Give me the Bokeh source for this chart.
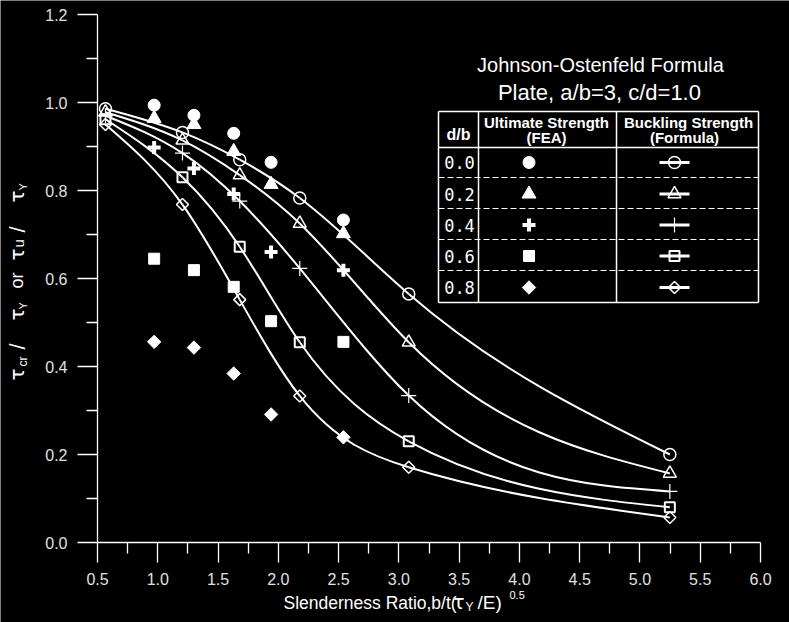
import numpy as np
from bokeh.plotting import figure
from bokeh.models import Label, FixedTicker, PrintfTickFormatter
from bokeh.embed import file_html
from bokeh.resources import INLINE

# ---------------- data ----------------
db_labels = ["0.0", "0.2", "0.4", "0.6", "0.8"]

fea_x = [0.97, 1.30, 1.63, 1.94, 2.54]
fea_00 = [0.994, 0.971, 0.930, 0.864, 0.733]
fea_02 = [0.964, 0.950, 0.889, 0.814, 0.702]
fea_04 = [0.898, 0.850, 0.792, 0.660, 0.619]
fea_06 = [0.645, 0.619, 0.581, 0.503, 0.456]
fea_08 = [0.456, 0.443, 0.384, 0.291, 0.239]

formula_x = [0.566, 1.205, 1.68, 2.178, 3.082, 5.248]
formula_00 = [0.986, 0.932, 0.870, 0.783, 0.565, 0.200]
formula_02 = [0.978, 0.914, 0.835, 0.725, 0.455, 0.157]
formula_04 = [0.970, 0.885, 0.776, 0.623, 0.334, 0.116]
formula_06 = [0.962, 0.830, 0.672, 0.455, 0.230, 0.080]
formula_08 = [0.950, 0.768, 0.552, 0.333, 0.171, 0.057]

x_ticks = [0.5, 1.0, 1.5, 2.0, 2.5, 3.0, 3.5, 4.0, 4.5, 5.0, 5.5, 6.0]
x_minor = [0.75, 1.25, 1.75, 2.25, 2.75, 3.25, 3.75, 4.25, 4.75, 5.25, 5.75]
y_ticks = [0.0, 0.2, 0.4, 0.6, 0.8, 1.0, 1.2]
y_minor = [0.1, 0.3, 0.5, 0.7, 0.9, 1.1]

# ---------------- layout ----------------
W, H = 789, 622
FL, FR, FT, FB = 97, 760, 14, 542          # pixel box of the data area
XMIN, XMAX, YMIN, YMAX = 0.5, 6.0, 0.0, 1.2


def X(px):
    return XMIN + (px - FL) * (XMAX - XMIN) / (FR - FL)


def Y(py):
    return YMIN + (FB - py) * (YMAX - YMIN) / (FB - FT)


p = figure(width=W, height=H, x_range=(X(0), X(W)), y_range=(Y(H), Y(0)),
           output_backend="svg", toolbar_location=None,
           min_border=0, min_border_left=0, min_border_right=0,
           min_border_top=0, min_border_bottom=0)
p.title.visible = False
p.background_fill_color = "black"
p.border_fill_color = "black"
p.outline_line_color = None
p.grid.visible = False

p.xaxis.fixed_location = YMIN
p.yaxis.fixed_location = XMIN
p.xaxis.bounds = (XMIN, XMAX)
p.yaxis.bounds = (YMIN, YMAX)

for ax, ticks, minor in ((p.xaxis, x_ticks, x_minor), (p.yaxis, y_ticks, y_minor)):
    ax.ticker = FixedTicker(ticks=ticks, minor_ticks=minor)
    ax.formatter = PrintfTickFormatter(format="%.1f")
    ax.axis_line_color = "white"
    ax.axis_line_width = 1.3
    ax.major_tick_line_color = "white"
    ax.minor_tick_line_color = "white"
    ax.major_tick_line_width = 1.3
    ax.minor_tick_line_width = 1.3
    ax.major_tick_in = 0
    ax.minor_tick_in = 0
    ax.major_tick_out = 20
    ax.minor_tick_out = 11
    ax.major_label_text_color = "#e0e0e0"
    ax.major_label_text_font = "Liberation Sans"
    ax.major_label_text_font_size = "16px"
    ax.major_label_standoff = 10


# ---------------- smooth curves: cubic spline through the formula points,
# drawn as Bezier segments ----------------
def spline_bezier(xs, ys):
    x = np.asarray(xs, float)
    y = np.asarray(ys, float)
    n = len(x)
    h = np.diff(x)
    A = np.zeros((n, n))
    b = np.zeros(n)
    A[0, 0] = 1
    A[-1, -1] = 1
    for i in range(1, n - 1):
        A[i, i - 1] = h[i - 1]
        A[i, i] = 2 * (h[i - 1] + h[i])
        A[i, i + 1] = h[i]
        b[i] = 6 * ((y[i + 1] - y[i]) / h[i] - (y[i] - y[i - 1]) / h[i - 1])
    M = np.linalg.solve(A, b)
    m = np.zeros(n)
    for i in range(n - 1):
        m[i] = (y[i + 1] - y[i]) / h[i] - h[i] * (2 * M[i] + M[i + 1]) / 6
    m[-1] = (y[-1] - y[-2]) / h[-1] + h[-1] * (M[-2] + 2 * M[-1]) / 6
    return dict(x0=x[:-1], y0=y[:-1], x1=x[1:], y1=y[1:],
                cx0=x[:-1] + h / 3, cy0=y[:-1] + m[:-1] * h / 3,
                cx1=x[1:] - h / 3, cy1=y[1:] - m[1:] * h / 3)


formula_series = [formula_00, formula_02, formula_04, formula_06, formula_08]
fea_series = [fea_00, fea_02, fea_04, fea_06, fea_08]

for ys in formula_series:
    p.bezier(**spline_bezier(formula_x, ys), line_color="white", line_width=2)

open_styles = [
    dict(marker="circle", size=12, line_width=1.5),
    dict(marker="triangle", size=13, line_width=1.5),
    dict(marker="cross", size=15, line_width=1.2),
    dict(marker="square", size=10, line_width=2),
    dict(marker="square", size=8.5, line_width=1.5, angle=np.pi / 4),
]
fill_styles = [
    dict(marker="circle", size=12),
    dict(marker="triangle", size=14),
    dict(marker="cross", size=13, line_width=4),
    dict(marker="square", size=11),
    dict(marker="square", size=9.5, angle=np.pi / 4),
]

for ys, st in zip(formula_series, open_styles):
    p.scatter(formula_x, ys, line_color="white", fill_color=None, **st)
for ys, st in zip(fea_series, fill_styles):
    st2 = dict(st)
    lw = st2.pop("line_width", 1)
    p.scatter(fea_x, ys, line_color="white", fill_color="white", line_width=lw, **st2)

# ---------------- legend table ----------------
TL, TR, TT, TBm = 438, 758, 111, 302
C1, C2 = 478, 616
HDR = 147
row_lines = [177, 208, 239, 270]
row_centers = [162, 193.5, 224.5, 255.5, 287]

p.segment(x0=[X(TL), X(TL), X(TL), X(TR), X(C1), X(C2), X(TL)],
          y0=[Y(TT), Y(TBm), Y(TT), Y(TT), Y(TT), Y(TT), Y(HDR)],
          x1=[X(TR), X(TR), X(TL), X(TR), X(C1), X(C2), X(TR)],
          y1=[Y(TT), Y(TBm), Y(TBm), Y(TBm), Y(TBm), Y(TBm), Y(HDR)],
          line_color="white", line_width=1.5)
p.segment(x0=[X(TL)] * 4, x1=[X(TR)] * 4,
          y0=[Y(r) for r in row_lines], y1=[Y(r) for r in row_lines],
          line_color="white", line_width=1.2, line_dash="6 3")

for yc, lab_txt, ost, fst in zip(row_centers, db_labels, open_styles, fill_styles):
    p.add_layout(Label(x=X(459), y=Y(yc), text=lab_txt, text_color="white",
                       text_font="DejaVu Sans Mono", text_font_size="17px",
                       text_align="center", text_baseline="middle"))
    st2 = dict(fst)
    lw = st2.pop("line_width", 1)
    p.scatter([X(528.5)], [Y(yc)], line_color="white", fill_color="white",
              line_width=lw, **st2)
    p.segment(x0=[X(659)], x1=[X(689)], y0=[Y(yc)], y1=[Y(yc)],
              line_color="white", line_width=3)
    p.scatter([X(674)], [Y(yc)], line_color="white", fill_color=None, **ost)


def lab(px, py, text, size, font="Liberation Sans", style="normal",
        align="center", baseline="middle", angle=0.0, color="white"):
    p.add_layout(Label(x=X(px), y=Y(py), text=text, text_color=color,
                       text_font=font, text_font_size=size, text_font_style=style,
                       text_align=align, text_baseline=baseline, angle=angle))


lab(600, 64, "Johnson-Ostenfeld Formula", "20px")
lab(602, 92, "Plate,  a/b=3, c/d=1.0", "22px")
lab(458, 134, "d/b", "16px", style="bold")
lab(546, 122, "Ultimate Strength", "15px", style="bold")
lab(546, 137, "(FEA)", "15px", style="bold")
lab(688, 122, "Buckling Strength", "15px", style="bold")
lab(684, 137, "(Formula)", "15px", style="bold")

# ---------------- axis titles ----------------
lab(283, 602, "Slenderness Ratio,b/t(", "17.5px", align="left", baseline="alphabetic")
lab(452, 601, "τ", "20px", font="DejaVu Sans", align="left", baseline="alphabetic")
lab(465, 606, "Y", "12px", align="left", baseline="alphabetic")
lab(477, 602, "/E)", "19px", align="left", baseline="alphabetic")
lab(509, 594, "0.5", "11px", align="left", baseline="alphabetic")

A = np.pi / 2
ytitle = [
    (380, 16, "τ", "20px", "DejaVu Sans"),
    (366, 22, "cr", "12px", "Liberation Sans"),
    (349, 17, "/", "22px", "Liberation Sans"),
    (320, 16, "τ", "20px", "DejaVu Sans"),
    (309, 22, "Y", "11px", "Liberation Sans"),
    (288, 16, "or", "18px", "Liberation Sans"),
    (260, 16, "τ", "20px", "DejaVu Sans"),
    (247, 18, "u", "15px", "Liberation Sans"),
    (232, 17, "/", "22px", "Liberation Sans"),
    (202, 16, "τ", "20px", "DejaVu Sans"),
    (190, 22, "Y", "11px", "Liberation Sans"),
]
for py, px, t, s, f in ytitle:
    lab(px, py, t, s, font=f, align="left", baseline="alphabetic", angle=A)

open("out.html", "w").write(file_html(p, INLINE))
